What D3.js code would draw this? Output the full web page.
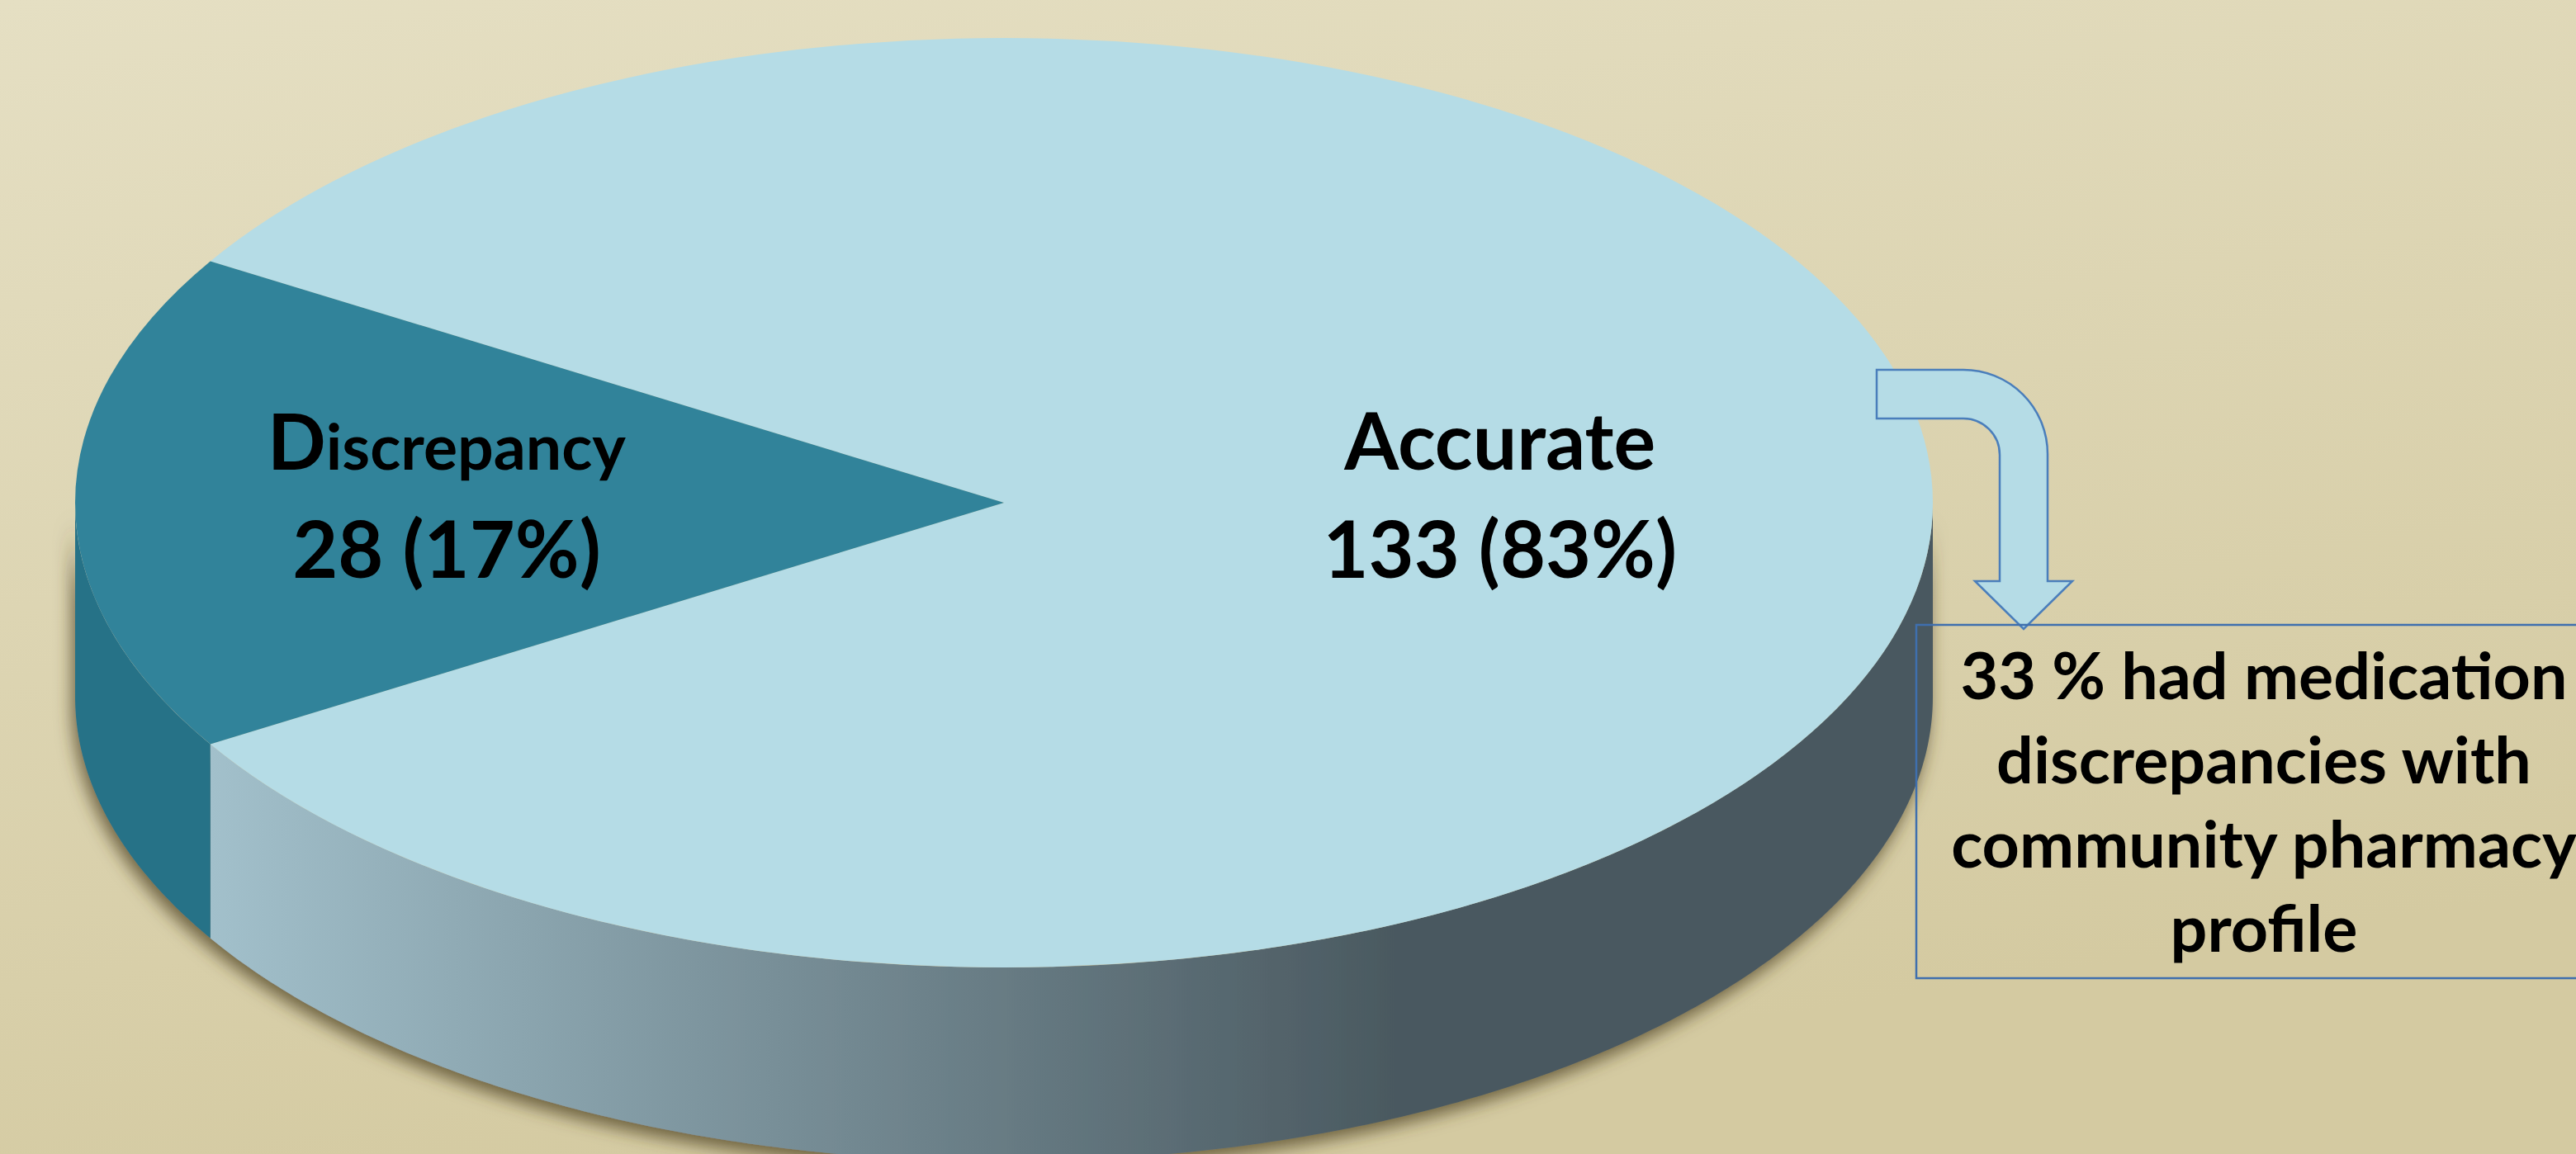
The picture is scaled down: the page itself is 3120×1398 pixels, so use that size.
<!DOCTYPE html>
<html lang="en">
<head>
<meta charset="UTF-8">
<title>Medication history accuracy</title>
<style>
  html, body { margin: 0; padding: 0; overflow: hidden; }
  body { width: 3120px; height: 1398px; }
  text { font-family: Lato, "Open Sans", sans-serif; font-weight: 700; fill: #000; }
</style>
</head>
<body>
<script src="https://cdn.jsdelivr.net/npm/d3@7"></script>
<script>
// chart data
var categories = ["Accurate", "Discrepancy"];
var counts = [133, 28];
var percents = ["83%", "17%"];
var noteLines = ["33 % had medication", "discrepancies with", "community pharmacy", "profile"];

(function() {
  var width = 3120, height = 1398;
  var cx = 1216, cy = 609, rx = 1125, ry = 563, depth = 235;

  var svg = d3.select("body").append("svg")
    .attr("width", width)
    .attr("height", height);

  var defs = svg.append("defs");

  var bg = defs.append("linearGradient").attr("id", "bg")
    .attr("x1", 0).attr("y1", 0).attr("x2", 0.35).attr("y2", 1);
  bg.append("stop").attr("offset", "0%").attr("stop-color", "#e5dfc3");
  bg.append("stop").attr("offset", "100%").attr("stop-color", "#d4caa1");

  var shadow = defs.append("filter").attr("id", "shadow")
    .attr("x", "-10%").attr("y", "-10%").attr("width", "120%").attr("height", "140%");
  shadow.append("feDropShadow")
    .attr("dx", -4).attr("dy", 10).attr("stdDeviation", 10)
    .attr("flood-color", "#4d4322").attr("flood-opacity", 0.75);

  svg.append("rect").attr("width", width).attr("height", height).attr("fill", "url(#bg)");

  var data = categories.map(function(c, i) {
    return { name: c, count: counts[i], pct: percents[i] };
  });
  var total = d3.sum(counts);

  // discrepancy slice centred on the left side of the pie
  var start = 1.5 * Math.PI - 2 * Math.PI * (counts[0] + counts[1] / 2) / total;
  var pie = d3.pie()
    .sort(null)
    .value(function(d) { return d.count; })
    .startAngle(start)
    .endAngle(start + 2 * Math.PI);
  var arcs = pie(data);

  var topColor = d3.scaleOrdinal().domain(categories).range(["#b5dce6", "#31839a"]);
  var sideColor = d3.scaleOrdinal().domain(categories).range(["url(#sideGrad)", "#287287"]);

  function pt(a, dy) {
    return [cx + rx * Math.sin(a), cy - ry * Math.cos(a) + dy];
  }

  // front wall pieces (visible between 90deg and 270deg)
  var sides = [];
  arcs.forEach(function(d) {
    for (var k = -1; k <= 1; k++) {
      var lo = Math.max(d.startAngle, Math.PI / 2 + k * 2 * Math.PI);
      var hi = Math.min(d.endAngle, 1.5 * Math.PI + k * 2 * Math.PI);
      if (hi > lo) sides.push({ d: d, a0: lo, a1: hi });
    }
  });

  var boundaryX = pt(arcs[0].endAngle, 0)[0];
  var sg = defs.append("linearGradient").attr("id", "sideGrad")
    .attr("gradientUnits", "userSpaceOnUse")
    .attr("x1", boundaryX).attr("y1", 0).attr("x2", 1690).attr("y2", 0);
  sg.append("stop").attr("offset", "0%").attr("stop-color", "#a2c0cb");
  sg.append("stop").attr("offset", "100%").attr("stop-color", "#4a5960");

  var line = d3.line();
  var sideG = svg.append("g").attr("filter", "url(#shadow)");
  sideG.selectAll("path")
    .data(sides)
    .enter().append("path")
    .attr("d", function(s) {
      var angles = d3.range(s.a0, s.a1, 0.01).concat([s.a1]);
      var topEdge = angles.map(function(a) { return pt(a, 0); });
      var bottomEdge = angles.slice().reverse().map(function(a) { return pt(a, depth); });
      return line(topEdge.concat(bottomEdge)) + "Z";
    })
    .attr("fill", function(s) { return sideColor(s.d.data.name); });

  var arc = d3.arc().innerRadius(0).outerRadius(rx);
  var topG = svg.append("g")
    .attr("transform", "translate(" + cx + "," + cy + ") scale(1," + (ry / rx) + ")");
  topG.selectAll("path")
    .data(arcs)
    .enter().append("path")
    .attr("d", arc)
    .attr("fill", function(d) { return topColor(d.data.name); });

  // slice labels
  var labelR = { "Accurate": 0.534, "Discrepancy": 0.60 };
  var labels = svg.append("g").selectAll("text")
    .data(arcs)
    .enter().append("text")
    .attr("text-anchor", "middle")
    .attr("transform", function(d) {
      var mid = (d.startAngle + d.endAngle) / 2;
      var p = [cx + rx * labelR[d.data.name] * Math.sin(mid), 611];
      return "translate(" + p + ")";
    });
  labels.each(function(d) {
    var t = d3.select(this);
    var first = t.append("tspan").attr("x", 0).attr("y", -42);
    if (d.data.name === "Discrepancy") {
      first.append("tspan").attr("font-size", 93).text(d.data.name.charAt(0));
      first.append("tspan").attr("font-size", 77).text(d.data.name.slice(1));
    } else {
      first.attr("font-size", 95).text(d.data.name);
    }
    t.append("tspan").attr("x", 0).attr("y", 89).attr("font-size", 95)
      .text(d.data.count + " (" + d.data.pct + ")");
  });

  // bent arrow
  svg.append("path")
    .attr("d", "M2273,448 L2378,448 A102,102 0 0 1 2480,550 L2480,704 L2510,704 L2451,762 " +
               "L2392,704 L2422,704 L2422,551 A44,44 0 0 0 2378,507 L2273,507 Z")
    .attr("fill", "#b5dce6")
    .attr("stroke", "#4a7ebb")
    .attr("stroke-width", 2.5);

  // note box
  svg.append("rect")
    .attr("x", 2321).attr("y", 757)
    .attr("width", 845).attr("height", 428)
    .attr("fill", "none")
    .attr("stroke", "#3f6fae")
    .attr("stroke-width", 2.5);

  svg.append("g").selectAll("text")
    .data(noteLines)
    .enter().append("text")
    .attr("x", 2742)
    .attr("y", function(d, i) { return 847 + i * 102; })
    .attr("text-anchor", "middle")
    .attr("font-size", 79)
    .text(function(d) { return d; });
})();
</script>
</body>
</html>
